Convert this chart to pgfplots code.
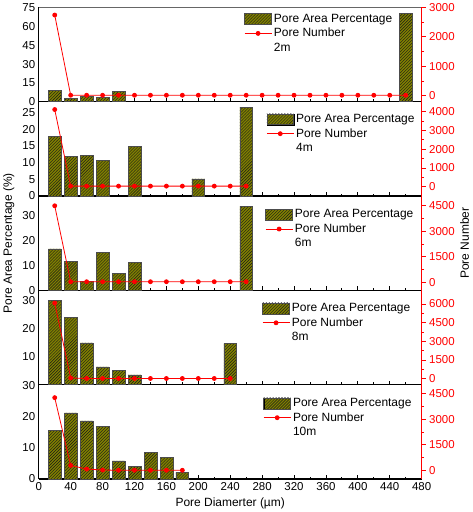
\documentclass[border=0pt]{standalone}
\usepackage{fontspec}
\setmainfont{Liberation Sans}
\usepackage{pgfplots}
\pgfplotsset{compat=1.18}
\usetikzlibrary{patterns}
\definecolor{olivec}{RGB}{128,128,0}
\definecolor{pred}{RGB}{255,0,0}
\pgfplotsset{
  base/.style={scale only axis, width=384pt, height=94.6pt, xmin=0, xmax=480,
    /pgf/number format/assume math mode=true,
    /pgf/number format/1000 sep={},
    tick label style={font=\fontsize{11.5}{13}\selectfont},
    label style={font=\fontsize{12}{14}\selectfont},
    major tick length=4pt, minor tick length=2.5pt,
    clip=false},
  lefta/.style={base, axis x line*=bottom, axis y line*=left,
    x axis line style={line width=1.3pt}, y axis line style={line width=0.8pt},
    xtick={0,40,...,480}, minor x tick num=1, tick align=inside,
    ytick style={draw=none}, xtick style={line width=0.8pt, black},
    ymin=0},
  righta/.style={base, axis y line*=right, axis x line=none, tick align=outside,
    y axis line style={pred, line width=0.8pt}, ytick style={pred, line width=0.8pt},
    minor y tick style={pred}, yticklabel style={pred}, minor y tick num=1,
    legend style={draw=none, fill=none, inner sep=0pt, anchor=north west,
      font=\fontsize{12}{14.5}\selectfont, row sep=0.5pt,
      nodes={fill=none, inner sep=2pt, anchor=west}},
    legend cell align=left},
  bars/.style={ybar, bar width=12.8pt, fill=olivec, draw=black!70, line width=0.5pt,
    postaction={pattern=north east lines, pattern color=black!90}},
  barleg/.style={legend image code/.code={%
    \path (0pt,0pt) (27pt,0pt);
    \fill[olivec] (0pt,-5.5pt) rectangle (27pt,5.5pt);
    \fill[pattern=north east lines, pattern color=black!90] (0pt,-5.5pt) rectangle (27pt,5.5pt);
    \draw[black!70, line width=0.5pt] (0pt,-5.5pt) rectangle (27pt,5.5pt);}},
  pline/.style={pred, line width=0.8pt, mark=*, mark size=2pt, mark options={pred},
    legend image code/.code={\draw[pred, line width=0.8pt] (0pt,0pt) -- (27pt,0pt); \fill[pred] (13.5pt,0pt) circle (2pt);}},
}
\begin{document}
\begin{tikzpicture}
% ---------- Panel 1: 2m
\begin{axis}[lefta, at={(0,0)}, anchor=north west, ymax=75.5, ytick={0,15,...,75}, xticklabels={}]
\addplot[bars] coordinates {(20,9.1) (40,2.9) (60,4.2) (80,3.7) (100,8.3) (460,71)};
\draw[black!60, line width=0.8pt] (rel axis cs:0,1) -- (rel axis cs:1,1);
\end{axis}
\begin{axis}[righta, at={(0,0)}, anchor=north west, ymin=-205, ymax=3000, ytick={0,1000,2000,3000},
  legend style={at={(0.536,0.952)}}]
\addlegendimage{barleg}
\addlegendentry{Pore Area Percentage}
\addplot[pline] coordinates {(20,2740) (40,15) (60,15) (80,15) (100,15) (120,15) (140,15) (160,15) (180,15) (200,15) (220,15) (240,15) (260,15) (280,15) (300,15) (320,15) (340,15) (360,15) (380,15) (400,15) (420,15) (440,15) (460,15)};
\addlegendentry{Pore Number}
\addlegendimage{empty legend}
\addlegendentry{2m}
\end{axis}
% ---------- Panel 2: 4m
\begin{axis}[lefta, at={(0,-94.6pt)}, anchor=north west, ymax=28.2, ytick={0,5,...,25}, xticklabels={}]
\addplot[bars] coordinates {(20,17.8) (40,11.8) (60,12.2) (80,10.6) (120,14.9) (200,5.1) (260,26.5)};
\end{axis}
\begin{axis}[righta, at={(0,-94.6pt)}, anchor=north west, ymin=-490, ymax=4520, ytick={0,1000,2000,3000,4000},
  legend style={at={(0.594,0.889)}}]
\addlegendimage{barleg}
\addlegendentry{Pore Area Percentage}
\addplot[pline] coordinates {(20,4105) (40,37) (60,37) (80,37) (100,37) (120,37) (140,37) (160,37) (180,37) (200,37) (220,37) (240,37) (260,37)};
\addlegendentry{Pore Number}
\addlegendimage{empty legend}
\addlegendentry{4m}
\end{axis}
% ---------- Panel 3: 6m
\begin{axis}[lefta, at={(0,-189.2pt)}, anchor=north west, ymax=37.6, ytick={0,10,20,30}, xticklabels={},
  ylabel={Pore Area Percentage (\%)}, ylabel style={at={(axis description cs:-0.078,0.5)}, anchor=center}]
\addplot[bars] coordinates {(20,16.5) (40,11.6) (60,3.6) (80,15.2) (100,6.8) (120,11.1) (260,33.5)};
\end{axis}
\begin{axis}[righta, at={(0,-189.2pt)}, anchor=north west, ymin=-490, ymax=5074, ytick={0,1500,3000,4500},
  ylabel={Pore Number}, ylabel style={at={(axis description cs:1.112,0.5)}, anchor=center, black},
  legend style={at={(0.591,0.878)}}]
\addlegendimage{barleg}
\addlegendentry{Pore Area Percentage}
\addplot[pline] coordinates {(20,4500) (40,20) (60,20) (80,20) (100,20) (120,20) (140,20) (160,20) (180,20) (200,20) (220,20) (240,20) (260,20)};
\addlegendentry{Pore Number}
\addlegendimage{empty legend}
\addlegendentry{6m}
\end{axis}
% ---------- Panel 4: 8m
\begin{axis}[lefta, at={(0,-283.8pt)}, anchor=north west, ymax=33.8, ytick={0,10,20,30}, yticklabels={,10,20,30}, xticklabels={}]
\addplot[bars] coordinates {(20,30.2) (40,24.2) (60,15) (80,6.4) (100,5.2) (120,3.5) (240,14.8)};
\end{axis}
\begin{axis}[righta, at={(0,-283.8pt)}, anchor=north west, ymin=-480, ymax=7096, ytick={0,1500,3000,4500,6000},
  legend style={at={(0.583,0.884)}}]
\addlegendimage{barleg}
\addlegendentry{Pore Area Percentage}
\addplot[pline] coordinates {(20,6080) (40,60) (60,20) (80,20) (100,20) (120,20) (140,20) (160,20) (180,20) (200,20) (220,20) (240,20)};
\addlegendentry{Pore Number}
\addlegendimage{empty legend}
\addlegendentry{8m}
\end{axis}
% ---------- Panel 5: 10m
\begin{axis}[lefta, at={(0,-378.4pt)}, anchor=north west, ymax=30.2, ytick={0,10,20,30},
  xticklabels={0,40,80,120,160,200,240,280,320,360,400,440,480},
  xlabel={Pore Diamerter (µm)}]
\addplot[bars] coordinates {(20,15.5) (40,21.2) (60,18.6) (80,16.8) (100,5.8) (120,4.1) (140,8.6) (160,6.9) (180,2.2)};
\end{axis}
\begin{axis}[righta, at={(0,-378.4pt)}, anchor=north west, ymin=-510, ymax=5030, ytick={0,1500,3000,4500},
  legend style={at={(0.586,0.878)}}]
\addlegendimage{barleg}
\addlegendentry{Pore Area Percentage}
\addplot[pline] coordinates {(20,4270) (40,290) (60,75) (80,20) (100,5) (120,5) (140,5) (160,5) (180,5)};
\addlegendentry{Pore Number}
\addlegendimage{empty legend}
\addlegendentry{10m}
\end{axis}
\end{tikzpicture}
\end{document}
